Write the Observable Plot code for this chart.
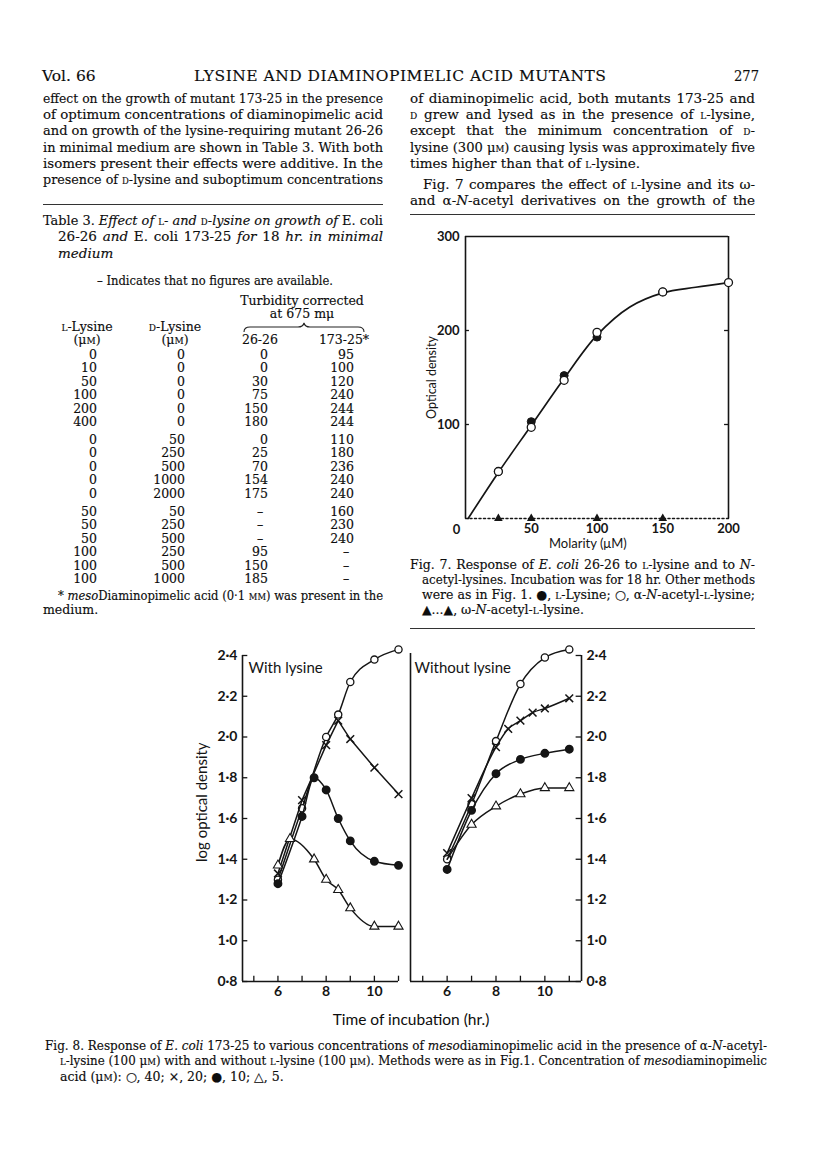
<!DOCTYPE html>
<html><head><meta charset="utf-8">
<script src="https://cdn.jsdelivr.net/npm/d3@7"></script>
<script src="https://cdn.jsdelivr.net/npm/@observablehq/plot@0.6"></script>
<style>
body{margin:0;background:#fff;}
#page{position:relative;width:816px;height:1155px;overflow:hidden;font-family:"DejaVu Serif",serif;color:#0d0d0d;background:#fff;}
.ln{position:absolute;white-space:nowrap;line-height:1;-webkit-text-stroke:0.15px #0d0d0d;}
.sc{font-variant:small-caps;}
.rule{position:absolute;height:0;border-top:1.4px solid #333;}
.plotbox{position:absolute;}
</style></head><body><div id="page"></div>
<script>
// ---------------- DATA ----------------
// Fig. 7 : response of E. coli 26-26 (optical density vs molarity, µM)
const fig7LysineX = [25, 50, 75, 100, 150];
const fig7LysineY = [50, 103, 152, 193, 241];
const fig7AlphaX = [25, 50, 75, 100, 150, 200];
const fig7AlphaY = [50, 97, 147, 198, 241, 251];
const fig7OmegaX = [25, 50, 100, 150];
const fig7OmegaY = [0, 0, 0, 0];
const fig7CurveX = [2, 25, 50, 75, 100, 125, 150, 175, 200];
const fig7CurveY = [0, 49, 99, 149, 195, 225, 240, 246, 251];
const fig7OmegaLineX = [0, 200];
const fig7OmegaLineY = [0, 0];
const fig7YTicks = [100, 200, 300];
const fig7XTicks = [50, 100, 150, 200];
const fig7Origin = ["0"];

// Fig. 8 : log optical density vs time (hr.)  — with lysine
const withT40 = [6, 7, 8, 8.5, 9, 10, 11];
const withV40 = [1.30, 1.65, 2.00, 2.11, 2.27, 2.38, 2.43];
const withT20 = [6, 7, 8, 8.5, 9, 10, 11];
const withV20 = [1.33, 1.69, 1.96, 2.08, 1.99, 1.85, 1.72];
const withT10 = [6, 7, 7.5, 8, 8.5, 9, 10, 11];
const withV10 = [1.28, 1.61, 1.80, 1.74, 1.60, 1.49, 1.39, 1.37];
const withT5 = [6, 6.5, 7.5, 8, 8.5, 9, 10, 11];
const withV5 = [1.37, 1.50, 1.40, 1.30, 1.25, 1.16, 1.07, 1.07];
// without lysine
const woT40 = [6, 7, 8, 9, 10, 11];
const woV40 = [1.40, 1.67, 1.98, 2.26, 2.39, 2.43];
const woT20 = [6, 7, 8, 8.5, 9, 9.5, 10, 11];
const woV20 = [1.43, 1.70, 1.95, 2.04, 2.08, 2.12, 2.14, 2.19];
const woT10 = [6, 7, 8, 9, 10, 11];
const woV10 = [1.35, 1.64, 1.82, 1.89, 1.92, 1.94];
const woT5 = [6, 7, 8, 9, 10, 11];
const woV5 = [1.40, 1.57, 1.66, 1.72, 1.75, 1.75];
const fig8YTicks = [0.8, 1.0, 1.2, 1.4, 1.6, 1.8, 2.0, 2.2, 2.4];
const fig8XTicks = [5, 6, 7, 8, 9, 10, 11];
const fig8XLabels = [6, 8, 10];

// Table 3
const tabLLysine = [0, 10, 50, 100, 200, 400, 0, 0, 0, 0, 0, 50, 50, 50, 100, 100, 100];
const tabDLysine = [0, 0, 0, 0, 0, 0, 50, 250, 500, 1000, 2000, 50, 250, 500, 250, 500, 1000];
const tab2626 = [0, 0, 30, 75, 150, 180, 0, 25, 70, 154, 175, null, null, null, 95, 150, 185];
const tab17325 = [95, 100, 120, 240, 244, 244, 110, 180, 236, 240, 240, 160, 230, 240, null, null, null];
const tabGroup = [0, 0, 0, 0, 0, 0, 1, 1, 1, 1, 1, 2, 2, 2, 2, 2, 2];

// ---------------- PAGE TEXT ----------------
const page = document.getElementById("page");
const sc = s => `<span class="sc">${s}</span>`;
const L = sc("l"), D = sc("d"), uM = "μ" + sc("m");

function line(html, x, y, w, size, opt = {}) {
  const d = document.createElement("div");
  d.className = "ln";
  d.style.fontSize = size + "px";
  d.style.top = (y - size * 0.6) + "px";
  if (opt.family) { d.style.fontFamily = opt.family; d.style.webkitTextStroke = "0"; }
  const s = document.createElement("span");
  s.style.display = "inline-block";
  s.innerHTML = html;
  d.appendChild(s);
  page.appendChild(d);
  let nw = s.getBoundingClientRect().width;
  if (w && opt.spread && nw < w) {
    const n = s.textContent.length;
    s.style.letterSpacing = ((w - nw) / (n - 1)) + "px";
    nw = s.getBoundingClientRect().width;
  }
  let left = x;
  if (opt.align === "right") left = x - nw;
  if (opt.align === "center") left = x - nw / 2;
  d.style.left = left + "px";
  if (w) {
    if (nw > w + 0.5) {
      s.style.transform = `scaleX(${w / nw})`;
      s.style.transformOrigin = "0 0";
    } else if (opt.justify) {
      d.style.width = w + "px";
      s.style.display = "block";
      s.style.textAlign = "justify";
      s.style.textAlignLast = "justify";
    }
  }
}
function rule(x1, x2, y) {
  const r = document.createElement("div");
  r.className = "rule";
  r.style.left = x1 + "px"; r.style.width = (x2 - x1) + "px"; r.style.top = y + "px";
  page.appendChild(r);
}

// header
line("Vol. 66", 42, 78, 54, 15.5);
line("LYSINE AND DIAMINOPIMELIC ACID MUTANTS", 194, 78, 412, 15.5, {spread: true});
line("277", 734, 78, 25, 15.5);

// columns
const LC = 43, LW = 340, RC = 410, RW = 345, BS = 13.5;
const leftLines = [
  "effect on the growth of mutant 173-25 in the presence",
  "of optimum concentrations of diaminopimelic acid",
  "and on growth of the lysine-requiring mutant 26-26",
  "in minimal medium are shown in Table 3. With both",
  "isomers present their effects were additive.  In the",
  `presence of ${D}-lysine and suboptimum concentrations`
];
leftLines.forEach((t, i) => line(t, LC, 100 + i * 16.2, LW, BS, {justify: true}));
rule(LC, LC + LW, 204);

const rightLines = [
  ["of diaminopimelic acid, both mutants 173-25 and", RC, 100, RW, true],
  [`${D} grew and lysed as in the presence of ${L}-lysine,`, RC, 116.2, RW, true],
  [`except that the minimum concentration of ${D}-`, RC, 132.4, RW, true],
  [`lysine (300 ${uM}) causing lysis was approximately five`, RC, 148.6, RW, true],
  [`times higher than that of ${L}-lysine.`, RC, 164.8, RW, false],
  [`Fig. 7 compares the effect of ${L}-lysine and its ω-`, RC + 13, 186, RW - 13, true],
  [`and α-<i>N</i>-acetyl derivatives on the growth of the`, RC, 202.2, RW, true]
];
rightLines.forEach(([t, x, y, w, j]) => line(t, x, y, w, BS, {justify: j}));
rule(RC, RC + RW, 214);

// Table 3
const TS = 12.5;
line(`Table 3.  <i>Effect of</i> ${L}- <i>and</i> ${D}-<i>lysine on growth of</i> E. coli`, LC, 222, LW, 13.5, {justify: true});
line(`26-26 <i>and</i> E. coli 173-25 <i>for</i> 18 <i>hr. in minimal</i>`, LC + 15, 238.5, LW - 15, 13.5, {justify: true});
line(`<i>medium</i>`, LC + 15, 255, null, 13.5);
line("– Indicates that no figures are available.", 97, 282, 236, TS);
line("Turbidity corrected", 302, 302, null, TS, {align: "center"});
line("at 675 mμ", 302, 315, null, TS, {align: "center"});
line(`${L}-Lysine`, 87, 328, null, TS, {align: "center"});
line(`(${uM})`, 87, 341.5, null, TS, {align: "center"});
line(`${D}-Lysine`, 175, 328, null, TS, {align: "center"});
line(`(${uM})`, 175, 341.5, null, TS, {align: "center"});
line("26-26", 260, 341.5, null, TS, {align: "center"});
line("173-25*", 344, 341.5, null, TS, {align: "center"});
// brace
{
  const ns = "http://www.w3.org/2000/svg";
  const svg = document.createElementNS(ns, "svg");
  svg.setAttribute("width", 140); svg.setAttribute("height", 14);
  svg.style.position = "absolute"; svg.style.left = "240px"; svg.style.top = "321px";
  const p = document.createElementNS(ns, "path");
  p.setAttribute("d", "M4,11 Q4,6 10,6 L58,6 Q63,6 64,2 Q65,6 70,6 L118,6 Q124,6 124,11");
  p.setAttribute("fill", "none"); p.setAttribute("stroke", "#222"); p.setAttribute("stroke-width", "1.1");
  svg.appendChild(p); page.appendChild(svg);
}
const groupStart = [356, 441, 513];
const rowCount = [0, 0, 0];
tabLLysine.forEach((v, i) => {
  const g = tabGroup[i];
  const y = groupStart[g] + rowCount[g]++ * 13.5;
  const cell = (val, xr) => line(val == null ? "–" : String(val), val == null ? xr - 8 : xr, y, null, TS, {align: val == null ? "center" : "right"});
  cell(tabLLysine[i], 97);
  cell(tabDLysine[i], 185);
  cell(tab2626[i], 268);
  cell(tab17325[i], 354);
});
line(`* <i>meso</i>Diaminopimelic acid (0·1 ${sc("mm")}) was present in the`, LC + 15, 597, LW - 15, TS, {justify: true});
line("medium.", LC, 611, null, TS);

// Fig. 7 caption
const CS = 12.5;
line(`Fig. 7.  Response of <i>E. coli</i> 26-26 to ${L}-lysine and to <i>N</i>-`, RC, 566, RW, CS, {justify: true});
line(`acetyl-lysines.  Incubation was for 18 hr.  Other methods`, RC + 12, 581, RW - 12, CS, {justify: true});
line(`were as in Fig. 1.  ●, ${L}-Lysine;  ○, α-<i>N</i>-acetyl-${L}-lysine;`, RC + 12, 596, RW - 12, CS, {justify: true});
line(`▲...▲, ω-<i>N</i>-acetyl-${L}-lysine.`, RC + 12, 611, null, CS);
rule(RC, RC + RW, 628);

// Fig. 8 caption
line(`Fig. 8. Response of <i>E. coli</i> 173-25 to various concentrations of <i>meso</i>diaminopimelic acid in the presence of α-<i>N</i>-acetyl-`, 45, 1047, 722, 12.5, {justify: true});
line(`${L}-lysine (100 ${uM}) with and without ${L}-lysine (100 ${uM}).  Methods were as in Fig.1.  Concentration of <i>meso</i>diaminopimelic`, 60, 1062.5, 707, 12.5, {justify: true});
line(`acid (${uM}): ○, 40;  ×, 20; ●, 10; △, 5.`, 60, 1078, null, 12.5);

// ---------------- PLOTS ----------------
const SANS = "Lato, 'Open Sans', sans-serif";
const ink = "#151515";
function place(svg, left, top) {
  const box = document.createElement("div");
  box.className = "plotbox";
  box.style.left = left + "px"; box.style.top = top + "px";
  box.appendChild(svg);
  page.appendChild(box);
}
const pts = (xs, ys) => xs.map((x, i) => ({x, y: ys[i]}));

// Fig 7
const f7 = Plot.plot({
  width: 335, height: 330,
  marginLeft: 50, marginRight: 22, marginTop: 10, marginBottom: 38,
  x: {domain: [0, 200], label: null},
  y: {domain: [0, 300], label: null},
  style: {fontFamily: SANS, fontSize: "13px", color: ink, background: "transparent", overflow: "visible"},
  marks: [
    Plot.ruleX([0, 200], {y1: 0, y2: 300, stroke: ink, strokeWidth: 1.6}),
    Plot.ruleY([300], {x1: 0, x2: 200, stroke: ink, strokeWidth: 1.6}),
    Plot.ruleY(fig7YTicks.slice(0, 2), {x1: 0, x2: 3, stroke: ink, strokeWidth: 1.3}),
    Plot.ruleY(fig7YTicks.slice(0, 2), {x1: 197, x2: 200, stroke: ink, strokeWidth: 1.3}),
    Plot.line(pts(fig7OmegaLineX, fig7OmegaLineY), {x: "x", y: "y", stroke: ink, strokeWidth: 1.5, strokeDasharray: "2,2.5"}),
    Plot.axisY(fig7YTicks, {anchor: "left", tickSize: 0, tickPadding: 6, fontSize: 13, fontWeight: 700}),
    Plot.axisX(fig7XTicks, {anchor: "bottom", tickSize: 0, tickPadding: 5, fontSize: 13, fontWeight: 700}),
    Plot.text(fig7Origin, {x: 0, y: 0, dx: -9, dy: 11, fontSize: 13, fontWeight: 700, fill: ink}),
    Plot.line(pts(fig7CurveX, fig7CurveY), {x: "x", y: "y", curve: "catmull-rom", stroke: ink, strokeWidth: 1.7}),
    Plot.dot(pts(fig7OmegaX, fig7OmegaY), {x: "x", y: "y", symbol: "triangle", r: 3.2, fill: ink, stroke: "none"}),
    Plot.dot(pts(fig7LysineX, fig7LysineY), {x: "x", y: "y", r: 4, fill: ink, stroke: ink, strokeWidth: 1}),
    Plot.dot(pts(fig7AlphaX, fig7AlphaY), {x: "x", y: "y", r: 4, fill: "white", stroke: ink, strokeWidth: 1.3}),
    Plot.text(["Optical density"], {x: 0, y: 150, dx: -34, rotate: -90, fontSize: 12.5, fill: ink}),
    Plot.text(["Molarity (μM)"], {x: 93, y: 0, dy: 25, fontSize: 13, fill: ink})
  ]
});
place(f7, 415, 226);

// Fig 8
const fmt = d => d.toFixed(1).replace(".", "·");
function series(ts, vs, marker, curve, skipFirst) {
  const data = pts(ts, vs);
  const dots = skipFirst ? data.slice(1) : data;
  const m = [Plot.line(data, {x: "x", y: "y", curve, stroke: ink, strokeWidth: 1.5})];
  if (marker === "open") m.push(Plot.dot(dots, {x: "x", y: "y", r: 3.6, fill: "white", stroke: ink, strokeWidth: 1.3}));
  if (marker === "filled") m.push(Plot.dot(dots, {x: "x", y: "y", r: 3.7, fill: ink, stroke: ink}));
  if (marker === "times") m.push(Plot.dot(dots, {x: "x", y: "y", symbol: "times", r: 3.6, stroke: ink, strokeWidth: 1.5}));
  if (marker === "tri") m.push(Plot.dot(dots, {x: "x", y: "y", symbol: "triangle", r: 3.4, fill: "white", stroke: ink, strokeWidth: 1.1}));
  return m;
}
const f8common = {
  width: 215, height: 370, marginTop: 15, marginBottom: 29,
  y: {domain: [0.8, 2.4], label: null},
  style: {fontFamily: SANS, fontSize: "14px", color: ink, background: "transparent", overflow: "visible"}
};
const xa = 4.53;
const f8a = Plot.plot({
  ...f8common, marginLeft: 52, marginRight: 7,
  x: {domain: [xa, 11], label: null},
  marks: [
    Plot.ruleX([xa], {y1: 0.8, y2: 2.4, stroke: ink, strokeWidth: 1.6}),
    Plot.ruleY([0.8], {x1: xa, x2: 11, stroke: ink, strokeWidth: 1.6}),
    Plot.ruleY(fig8YTicks, {x1: xa, x2: xa + 0.22, stroke: ink, strokeWidth: 1.3}),
    Plot.ruleX(fig8XTicks, {y1: 0.8, y2: 0.826, stroke: ink, strokeWidth: 1.3}),
    Plot.axisY(fig8YTicks, {anchor: "left", tickSize: 0, tickPadding: 5, tickFormat: fmt, fontSize: 14, fontWeight: 700}),
    Plot.axisX(fig8XLabels, {anchor: "bottom", tickSize: 0, tickPadding: 5, fontSize: 14, fontWeight: 700}),
    ...series(withT40, withV40, "open", "monotone-x"),
    ...series(withT20, withV20, "times", "linear"),
    ...series(withT10, withV10, "filled", "monotone-x"),
    ...series(withT5, withV5, "tri", "monotone-x"),
    Plot.text(["With lysine"], {x: xa, y: 2.4, dx: 6, dy: 13, textAnchor: "start", fontSize: 15, fill: ink}),
    Plot.text(["log optical density"], {x: xa, y: 1.68, dx: -40, rotate: -90, fontSize: 15, fill: ink})
  ]
});
place(f8a, 190, 640);

const xb0 = 4.5, xb1 = 11.5;
const f8b = Plot.plot({
  ...f8common, marginLeft: 5, marginRight: 39,
  x: {domain: [xb0, xb1], label: null},
  marks: [
    Plot.ruleX([xb0], {y1: 0.8, y2: 2.41, stroke: ink, strokeWidth: 1.6}),
    Plot.ruleX([xb1], {y1: 0.8, y2: 2.4, stroke: ink, strokeWidth: 1.6}),
    Plot.ruleY([0.8], {x1: xb0, x2: xb1, stroke: ink, strokeWidth: 1.6}),
    Plot.ruleY(fig8YTicks, {x1: xb1 - 0.22, x2: xb1, stroke: ink, strokeWidth: 1.3}),
    Plot.ruleX(fig8XTicks, {y1: 0.8, y2: 0.826, stroke: ink, strokeWidth: 1.3}),
    Plot.axisY(fig8YTicks, {anchor: "right", tickSize: 0, tickPadding: 5, tickFormat: fmt, fontSize: 14, fontWeight: 700}),
    Plot.axisX(fig8XLabels, {anchor: "bottom", tickSize: 0, tickPadding: 5, fontSize: 14, fontWeight: 700}),
    ...series(woT40, woV40, "open", "monotone-x"),
    ...series(woT20, woV20, "times", "monotone-x"),
    ...series(woT10, woV10, "filled", "monotone-x"),
    ...series(woT5, woV5, "tri", "monotone-x", true),
    Plot.text(["Without lysine"], {x: xb0, y: 2.4, dx: 4, dy: 13, textAnchor: "start", fontSize: 15, fill: ink})
  ]
});
place(f8b, 405, 640);

line("Time of incubation (hr.)", 411, 1021, null, 15.5, {align: "center", family: SANS});
</script></body></html>
